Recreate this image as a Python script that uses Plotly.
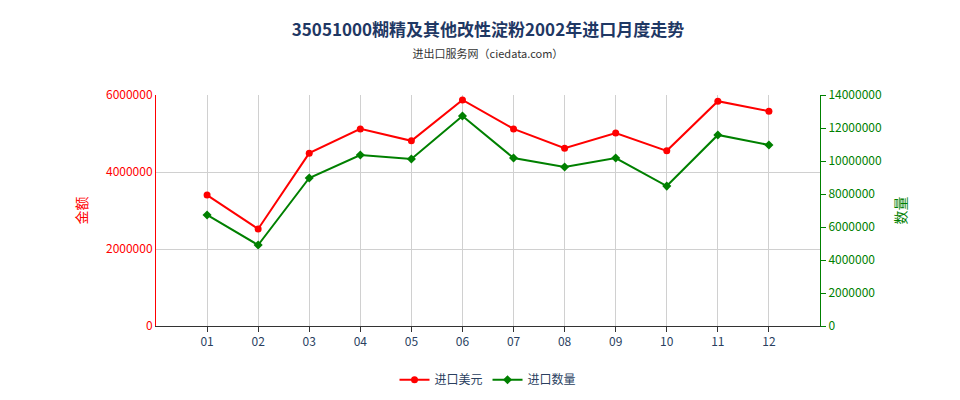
import plotly.graph_objects as go

months = ["01","02","03","04","05","06","07","08","09","10","11","12"]
value_usd = [3400000,2520000,4490000,5120000,4810000,5870000,5120000,4620000,5010000,4550000,5840000,5580000]
quantity = [6730000,4910000,8970000,10360000,10120000,12730000,10180000,9640000,10180000,8480000,11580000,10970000]
xs = list(range(1, 13))

fig = go.Figure()
fig.add_trace(go.Scatter(x=xs, y=value_usd, name="进口美元", mode="lines+markers",
    line=dict(color="#ff0000", width=2), marker=dict(size=7, color="#ff0000")))
fig.add_trace(go.Scatter(x=xs, y=quantity, name="进口数量", mode="lines+markers", yaxis="y2",
    line=dict(color="#008000", width=2), marker=dict(size=7, symbol="diamond", color="#008000")))

font = "Noto Sans CJK SC"
fig.update_layout(
    width=960, height=400, margin=dict(l=148, r=148, t=87, b=82, autoexpand=False),
    plot_bgcolor="white", paper_bgcolor="white", font=dict(family=font, size=12),
    title=dict(text="<b>35051000糊精及其他改性淀粉2002年进口月度走势</b><br><span style='font-size:11px;color:#333'>进出口服务网（ciedata.com）</span>",
               x=0.5, y=0.93, yanchor="middle", xanchor="center", font=dict(size=17, color="#1f3864")),
    xaxis=dict(range=[0, 13], tickvals=xs, ticktext=months, showgrid=True, gridcolor="#d0d0d0",
               showline=True, linecolor="#333", ticks="outside", tickcolor="#333", zeroline=False),
    yaxis=dict(range=[0, 6000000], dtick=2000000, tickformat="d", showgrid=True, gridcolor="#d0d0d0",
               tickfont=dict(color="#ff0000"), showline=True, linecolor="#ff0000", zeroline=False,
               title=dict(text="金额", font=dict(color="#ff0000"))),
    yaxis2=dict(range=[0, 14000000], dtick=2000000, tickformat="d", overlaying="y", side="right",
                showgrid=False, tickfont=dict(color="#008000"), showline=True, linecolor="#008000",
                ticks="outside", tickcolor="#008000", zeroline=False,
                title=dict(text="数量", font=dict(color="#008000"))),
    legend=dict(orientation="h", x=0.5, xanchor="center", y=-0.17, yanchor="top"),
)
fig.write_html("out.html")
